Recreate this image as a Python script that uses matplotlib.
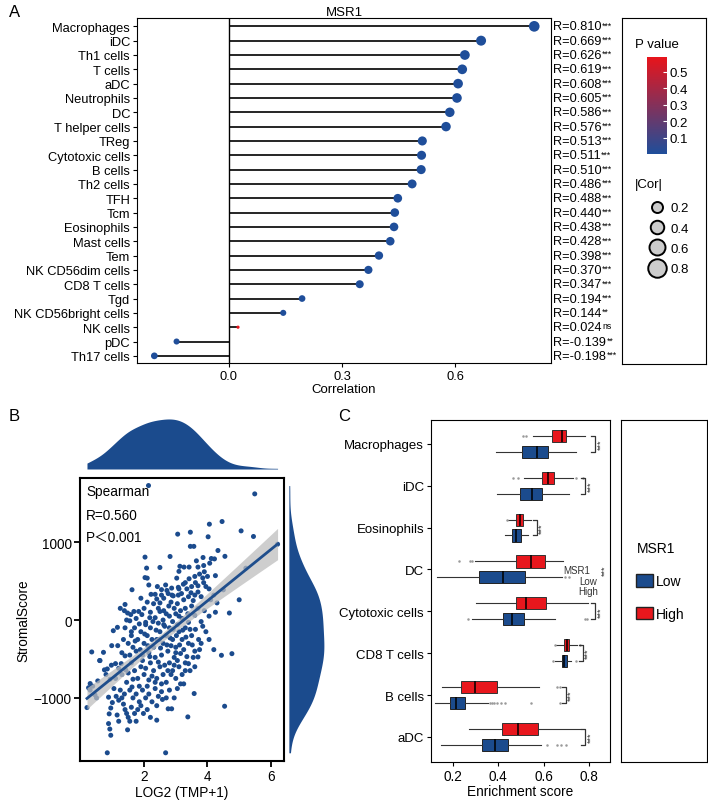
import numpy as np
import matplotlib
matplotlib.use("Agg")
import matplotlib.pyplot as plt
from matplotlib.colors import LinearSegmentedColormap
from matplotlib.lines import Line2D
from matplotlib.patches import Patch

plt.rcParams['font.family'] = ['Liberation Sans', 'Noto Sans CJK SC', 'DejaVu Sans']

# ---------------- panel A data (top to bottom)
cells = ["Macrophages", "iDC", "Th1 cells", "T cells", "aDC", "Neutrophils", "DC",
         "T helper cells", "TReg", "Cytotoxic cells", "B cells", "Th2 cells", "TFH",
         "Tcm", "Eosinophils", "Mast cells", "Tem", "NK CD56dim cells", "CD8 T cells",
         "Tgd", "NK CD56bright cells", "NK cells", "pDC", "Th17 cells"]
cor = [0.810, 0.669, 0.626, 0.619, 0.608, 0.605, 0.586, 0.576, 0.513, 0.511, 0.510,
       0.486, 0.448, 0.440, 0.438, 0.428, 0.398, 0.370, 0.347, 0.194, 0.144, 0.024,
       -0.139, -0.198]
cor_lab = ["0.810", "0.669", "0.626", "0.619", "0.608", "0.605", "0.586", "0.576",
           "0.513", "0.511", "0.510", "0.486", "0.488", "0.440", "0.438", "0.428",
           "0.398", "0.370", "0.347", "0.194", "0.144", "0.024", "-0.139", "-0.198"]
stars = ["***"] * 20 + ["**", "ns", "**", "***"]
pvals = [0.0] * 20 + [0.003, 0.59, 0.005, 0.0]
size_levels = [0.2, 0.4, 0.6, 0.8]

# ---------------- panel B data: (LOG2(TMP+1), StromalScore)
scatter_pts = [
    (2.14, 1727), (5.49, 1620), (4.46, 1265), (4.06, 1231), (5.06, 1145), (5.45, 1073),
    (4.02, 1069), (3.46, 1128), (3.06, 1103), (3.46, 946), (3.57, 946), (4.33, 893),
    (6.21, 974), (4.55, 818), (2.82, 816), (2.03, 808), (3.86, 803), (4.12, 790),
    (4.22, 785), (2.50, 675), (2.08, 667), (5.21, 666), (3.13, 690), (3.10, 625),
    (4.50, 388), (5.00, 260), (4.69, 90), (1.62, 389), (2.10, 538), (2.03, 545),
    (3.03, 538), (4.20, -380), (4.44, -453), (4.77, -432), (3.70, -474), (4.54, -1107),
    (3.38, -1244), (3.58, -944), (2.68, -1705), (0.84, -1705), (2.40, -1286),
    (2.76, -1140), (2.87, -1140), (0.20, -1124), (0.35, -410), (0.60, -520),
    (3.65, 760), (4.07, 730), (3.88, 700), (3.70, 680), (3.42, 680), (3.26, 680),
    (3.90, 620), (3.75, 590), (3.60, 560), (4.00, 560), (3.85, 540), (3.42, 530),
    (4.25, 570), (3.30, 480), (3.62, 480), (3.88, 480), (3.24, 460), (3.50, 430),
    (3.70, 440), (3.95, 430), (4.05, 400), (3.35, 400), (3.10, 400), (2.15, 450),
    (2.42, 430), (2.68, 450), (2.55, 390), (2.72, 380), (2.87, 410), (3.08, 420),
    (2.35, 330), (2.55, 320), (2.76, 340), (2.92, 310), (3.08, 320), (3.18, 340),
    (3.40, 300), (3.60, 320), (3.80, 300), (4.10, 260), (4.30, 220), (4.20, 320),
    (2.10, 230), (2.30, 210), (2.50, 220), (2.85, 230), (3.05, 210), (1.38, 120),
    (1.48, 90), (1.58, 70), (1.68, 110), (1.83, 110), (1.93, 70), (2.50, 110),
    (2.70, 80), (2.80, 50), (3.00, 80), (3.10, 50), (3.30, 150), (3.50, 180),
    (3.70, 150), (3.90, 120), (4.05, 50), (4.25, 100), (2.00, 150), (2.20, 100),
    (2.35, 30), (2.60, 0), (2.90, -20), (3.20, 20), (3.40, -30), (3.60, 60),
    (3.80, -20), (1.75, 20), (1.55, -10), (1.25, 150), (1.40, 200), (1.45, 0),
    (2.05, -30), (2.45, 150), (3.25, 260), (2.95, 150), (3.55, 250),
    (1.03, -137), (1.16, -94), (1.17, -329), (0.98, -329), (1.30, -420), (1.35, -250),
    (1.40, -100), (1.50, -300), (1.60, -200), (1.70, -100), (1.80, -250), (1.90, -150),
    (2.00, -300), (2.10, -200), (2.20, -100), (2.30, -350), (2.40, -250), (2.50, -150),
    (2.60, -300), (2.70, -200), (2.80, -100), (2.90, -250), (3.00, -350), (3.10, -150),
    (3.20, -250), (3.30, -100), (3.40, -300), (3.50, -200), (3.60, -400), (3.80, -300),
    (3.95, -150), (4.05, -250), (1.55, -450), (1.75, -400), (1.95, -450), (2.15, -420),
    (2.35, -480), (2.55, -450), (2.75, -400), (2.95, -480), (3.15, -430), (3.35, -470),
    (2.05, -60), (2.45, -40), (2.65, -80), (3.05, -60), (1.85, -50), (2.25, -250),
    (2.85, -330), (3.25, -380), (3.45, -120), (1.65, -350),
    (1.10, -560), (1.20, -620), (1.42, -640), (1.30, -700), (1.45, -800), (1.38, -950),
    (1.25, -900), (1.05, -880), (1.10, -750), (1.60, -550), (1.70, -650), (1.80, -750),
    (1.90, -600), (2.00, -700), (2.10, -850), (2.20, -550), (2.30, -650), (2.40, -750),
    (2.50, -600), (2.60, -700), (2.70, -800), (2.80, -550), (2.90, -650), (3.00, -750),
    (3.10, -600), (3.20, -700), (3.30, -550), (3.45, -650), (3.60, -600), (1.55, -900),
    (1.75, -950), (1.95, -900), (2.15, -950), (2.35, -880), (2.55, -920), (2.80, -900),
    (3.05, -880), (3.25, -820), (1.65, -1000), (1.85, -1050), (2.05, -1000),
    (2.25, -1050), (2.45, -980), (2.95, -1000), (0.54, -782), (0.61, -521),
    (0.72, -415), (0.75, -640), (0.80, -700), (0.84, -628), (0.88, -991), (0.93, -760),
    (0.97, -580), (1.00, -1060), (0.25, -870), (0.30, -900), (0.38, -850), (0.45, -960),
    (0.50, -1000), (0.30, -816),
    (0.90, -1205), (0.88, -1330), (0.92, -1400), (0.95, -1480), (0.95, -1130),
    (1.15, -1220), (1.20, -1300), (1.30, -1000), (1.35, -1080), (1.40, -1150),
    (1.45, -1200), (1.50, -1250), (1.48, -1410), (1.20, -1030), (1.60, -1120),
    (1.70, -1200), (1.80, -1150), (1.55, -1300), (1.75, -1300), (1.90, -1100),
    (2.10, -1150), (2.20, -1250),
    (1.60, -150), (1.72, -270), (1.88, -380), (2.02, -180), (2.12, -330), (2.28, -20),
    (2.38, -130), (2.52, -360), (2.62, -60), (2.72, -320), (2.82, -230), (2.92, -120),
    (3.02, -200), (3.12, -320), (3.22, -130), (3.32, -220), (3.52, -320), (3.62, -120),
    (3.72, -250), (1.95, -520), (2.05, -620), (2.25, -720), (2.45, -540), (2.65, -580),
    (2.85, -700), (3.05, -520), (3.15, -820), (2.35, -800), (2.55, -820), (2.75, -650),
    (1.85, -850), (2.15, -770), (2.95, -580), (1.65, -760), (1.50, -680), (2.62, 120),
    (2.78, 180), (2.18, 30), (2.88, 320), (3.38, 80), (3.15, 120), (2.40, 270),
    (2.62, 280), (1.90, 280), (2.22, 330), (3.70, 360), (3.48, 350), (3.00, -420),
    (2.48, -250), (2.18, -470), (1.40, -460), (1.28, -560), (3.40, -560), (3.55, -480),
    (3.75, -380), (3.85, -80), (3.30, -650), (2.40, -1100), (2.58, -1020),
    (2.70, -1000), (1.98, -1200), (1.62, -860), (1.12, -980),
]

# ---------------- panel C data (top to bottom), High / Low MSR1 groups
groups = ["Macrophages", "iDC", "Eosinophils", "DC", "Cytotoxic cells",
          "CD8 T cells", "B cells", "aDC"]
hi_q1 = [0.635, 0.591, 0.480, 0.480, 0.480, 0.689, 0.237, 0.417]
hi_med = [0.679, 0.620, 0.495, 0.546, 0.521, 0.701, 0.296, 0.487]
hi_q3 = [0.698, 0.647, 0.507, 0.608, 0.610, 0.713, 0.392, 0.573]
hi_lo = [0.554, 0.513, 0.443, 0.299, 0.300, 0.653, 0.151, 0.269]
hi_hi = [0.782, 0.731, 0.546, 0.686, 0.797, 0.748, 0.580, 0.760]
hi_out = [[0.510, 0.522], [0.465, 0.487, 0.745, 0.775], [0.438], [0.227, 0.274, 0.285],
          [], [0.648, 0.760], [0.657, 0.672], []]
lo_q1 = [0.505, 0.495, 0.462, 0.314, 0.421, 0.680, 0.185, 0.327]
lo_med = [0.569, 0.549, 0.480, 0.421, 0.462, 0.691, 0.215, 0.384]
lo_q3 = [0.620, 0.594, 0.498, 0.517, 0.514, 0.701, 0.255, 0.443]
lo_lo = [0.389, 0.395, 0.428, 0.128, 0.286, 0.650, 0.122, 0.148]
lo_hi = [0.745, 0.710, 0.532, 0.679, 0.650, 0.723, 0.355, 0.590]
lo_out = [[], [], [], [0.695, 0.710], [0.266, 0.782, 0.790], [0.642, 0.745],
          [0.362, 0.372, 0.380, 0.392, 0.410, 0.430, 0.546, 0.672],
          [0.616, 0.660, 0.675, 0.698]]
sig_x = [0.827, 0.782, 0.569, None, 0.827, 0.772, 0.697, 0.782]
sig_lab = ["***"] * 8

blue = "#1B4B8D"
red = "#E8171D"

fig = plt.figure(figsize=(7.08, 8.03), dpi=100)

# ================= panel A
axA = fig.add_axes([0.1935, 0.5467, 0.585, 0.4296])
n = len(cells)
ypos = np.arange(n)[::-1]
cor_a = np.array(cor)
cmap = LinearSegmentedColormap.from_list("pv", ["#1F4E9A", "#E8141B"])
norm = plt.Normalize(0, max(pvals))
amin, amax = np.abs(cor_a).min(), np.abs(cor_a).max()


def dot_px(v):
    # area-type size scale on sqrt of rescaled |cor|
    r = np.clip((np.abs(np.asarray(v)) - amin) / (amax - amin), 0, 1)
    return 1.78 * (1.8 + 4.2 * np.sqrt(r))


axA.axvline(0, color="black", lw=1)
axA.hlines(ypos, 0, cor_a, color="black", lw=1.2)
axA.scatter(cor_a, ypos, s=(dot_px(cor_a) * 0.72) ** 2, c=pvals, cmap=cmap, norm=norm,
            edgecolors="none", zorder=3)
axA.set_xlim(-0.244, 0.855)
axA.set_ylim(-0.5, n - 1 + 0.58)
axA.set_yticks(ypos)
axA.set_yticklabels(cells, fontsize=9.3)
axA.set_xticks([0.0, 0.3, 0.6])
axA.set_xticklabels(["0.0", "0.3", "0.6"], fontsize=9.3)
axA.set_xlabel("Correlation", fontsize=9.5, labelpad=1)
axA.set_title("MSR1", fontsize=9.5, pad=2)
axA.tick_params(length=3, width=0.8, pad=2)
for y, lab, st in zip(ypos, cor_lab, stars):
    t = axA.text(1.004, y, "R=" + lab, transform=axA.get_yaxis_transform(),
                 ha="left", va="center", fontsize=9.2, clip_on=False)
    axA.annotate(st, xy=(1.0, 0.98), xycoords=t, xytext=(0.6, 0),
                 textcoords="offset points", ha="left", va="top", fontsize=6.3)

# legend box for panel A
axLA = fig.add_axes([0.8785, 0.5455, 0.1186, 0.431])
axLA.set_xticks([])
axLA.set_yticks([])
fig.text(0.897, 0.944, "P value", fontsize=9.5, va="center")
cax = fig.add_axes([0.9138, 0.807, 0.0282, 0.1208])
sm = plt.cm.ScalarMappable(norm=norm, cmap=cmap)
cb = fig.colorbar(sm, cax=cax, ticks=[0.1, 0.2, 0.3, 0.4, 0.5])
cb.outline.set_visible(False)
cb.ax.tick_params(length=3, width=0.8, color="white", direction="in",
                  labelsize=9.5, pad=2)
fig.text(0.897, 0.769, "|Cor|", fontsize=9.5, va="center")
size_handles = [Line2D([], [], ls="none", marker="o", markersize=(8.5 + 12.5 * v) * 0.72,
                       markerfacecolor="#CCCCCC", markeredgecolor="black",
                       markeredgewidth=1.4) for v in size_levels]
axLA.legend(size_handles, [str(v) for v in size_levels], loc="upper left",
            bbox_to_anchor=(0.22, 0.487), frameon=False, fontsize=9.5,
            handlelength=1.5, handletextpad=0.25, labelspacing=0.62, borderpad=0)

# ================= panel B
pts = np.array(scatter_pts, dtype=float)
bx, by = pts[:, 0], pts[:, 1]
axB = fig.add_axes([0.113, 0.0511, 0.288, 0.352])
axB.scatter(bx, by, s=13, color=blue, edgecolors="none", zorder=2)
slope, icpt = np.polyfit(bx, by, 1)
gx = np.linspace(bx.min(), bx.max(), 100)
fit = icpt + slope * gx
res = by - (icpt + slope * bx)
se_res = np.sqrt(np.sum(res ** 2) / (len(bx) - 2))
se = se_res * np.sqrt(1 / len(bx) + (gx - bx.mean()) ** 2 / np.sum((bx - bx.mean()) ** 2))
axB.fill_between(gx, fit - 1.966 * se, fit + 1.966 * se, color="#BEBEBE", alpha=0.75,
                 lw=0, zorder=3)
axB.plot(gx, fit, color="#1F4E8C", lw=2, zorder=4)
axB.set_xlim(-0.02, 6.41)
axB.set_ylim(-1810, 1820)
axB.set_xticks([2, 4, 6])
axB.set_yticks([-1000, 0, 1000])
axB.tick_params(labelsize=9.8, length=4, width=1.3, pad=2)
for sp in axB.spines.values():
    sp.set_linewidth(1.5)
axB.set_xlabel("LOG2 (TMP+1)", fontsize=9.8, labelpad=1)
axB.set_ylabel("StromalScore", fontsize=9.8, labelpad=2)
axB.text(0.03, 0.955, "Spearman", transform=axB.transAxes, fontsize=9.8, va="center")
axB.text(0.03, 0.87, "R=0.560", transform=axB.transAxes, fontsize=9.8, va="center")
axB.text(0.03, 0.792, "P\uFF1C0.001", transform=axB.transAxes, fontsize=9.8, va="center")


def kde(data, grid):
    sd = np.std(data, ddof=1)
    iqr = np.subtract(*np.percentile(data, [75, 25]))
    bw = 0.9 * min(sd, iqr / 1.34) * len(data) ** -0.2
    z = (grid[:, None] - data[None, :]) / bw
    return np.exp(-0.5 * z ** 2).sum(axis=1) / (len(data) * bw * np.sqrt(2 * np.pi))


axT = fig.add_axes([0.113, 0.4147, 0.288, 0.0648])
tx = np.linspace(bx.min(), bx.max(), 300)
td = kde(bx, tx)
axT.fill_between(tx, 0, td, color=blue, lw=0)
axT.set_xlim(axB.get_xlim())
axT.set_ylim(0, td.max() * 1.04)
axT.axis("off")

axR = fig.add_axes([0.408, 0.0511, 0.065, 0.352])
ry = np.linspace(by.min(), by.max(), 300)
rd = kde(by, ry)
axR.fill_betweenx(ry, 0, rd, color=blue, lw=0)
axR.set_ylim(axB.get_ylim())
axR.set_xlim(0, rd.max() * 46 / 35)
axR.axis("off")

# ================= panel C
axC = fig.add_axes([0.6088, 0.0498, 0.2528, 0.426])
ng = len(groups)
cpos = np.arange(ng)[::-1]


def make_stats(q1, med, q3, lo, hi, out):
    return [dict(q1=a, med=b, q3=c, whislo=d, whishi=e, fliers=f)
            for a, b, c, d, e, f in zip(q1, med, q3, lo, hi, out)]


common = dict(orientation="horizontal", widths=0.29, patch_artist=True,
              showcaps=False, showfliers=True,
              medianprops=dict(color="black", lw=1.1),
              whiskerprops=dict(color="#333333", lw=0.8),
              flierprops=dict(marker="o", markersize=1.8, markerfacecolor="#9A9A9A",
                              markeredgecolor="none"))
axC.bxp(make_stats(hi_q1, hi_med, hi_q3, hi_lo, hi_hi, hi_out), positions=cpos + 0.19,
        boxprops=dict(facecolor=red, edgecolor="#333333", lw=0.7), **common)
axC.bxp(make_stats(lo_q1, lo_med, lo_q3, lo_lo, lo_hi, lo_out), positions=cpos - 0.19,
        boxprops=dict(facecolor=blue, edgecolor="#222222", lw=0.7), **common)
for y, sx, lab in zip(cpos, sig_x, sig_lab):
    if sx is not None:
        axC.plot([sx - 0.018, sx, sx, sx - 0.018], [y + 0.19, y + 0.19, y - 0.19, y - 0.19],
                 color="#333333", lw=0.9)
        axC.text(sx + 0.006, y, lab, rotation=90, ha="left", va="center", fontsize=6.5,
                 color="#333333")
    else:
        axC.text(0.852, y, lab, rotation=90, ha="left", va="center", fontsize=6.5,
                 color="#333333")
axC.text(0.747, 3.99, "MSR1", fontsize=7, ha="center", va="center", color="#333333")
axC.text(0.796, 3.73, "Low", fontsize=7, ha="center", va="center", color="#333333")
axC.text(0.796, 3.49, "High", fontsize=7, ha="center", va="center", color="#333333")
axC.set_xlim(0.103, 0.893)
axC.set_ylim(-0.6, ng - 1 + 0.57)
axC.set_yticks(cpos)
axC.set_yticklabels(groups, fontsize=9.5)
axC.set_xticks([0.2, 0.4, 0.6, 0.8])
axC.set_xticklabels(["0.2", "0.4", "0.6", "0.8"], fontsize=9.8)
axC.set_xlabel("Enrichment score", fontsize=9.8, labelpad=1)
axC.tick_params(length=3, width=0.8, pad=2)

axLC = fig.add_axes([0.877, 0.0498, 0.1215, 0.426])
axLC.set_xticks([])
axLC.set_yticks([])
box_handles = [Patch(facecolor=blue, edgecolor="#222222"), Patch(facecolor=red, edgecolor="#222222")]
axLC.legend(box_handles, ["Low", "High"], title="MSR1", loc="upper left",
            bbox_to_anchor=(0.1, 0.665), frameon=False, fontsize=10, title_fontsize=10,
            handlelength=1.2, handleheight=1.0, handletextpad=0.2, labelspacing=1.35,
            borderpad=0, alignment="left")

# panel letters
fig.text(0.012, 0.985, "A", fontsize=12, va="center")
fig.text(0.012, 0.481, "B", fontsize=12, va="center")
fig.text(0.478, 0.481, "C", fontsize=12, va="center")

fig.savefig("out.png", dpi=100)
